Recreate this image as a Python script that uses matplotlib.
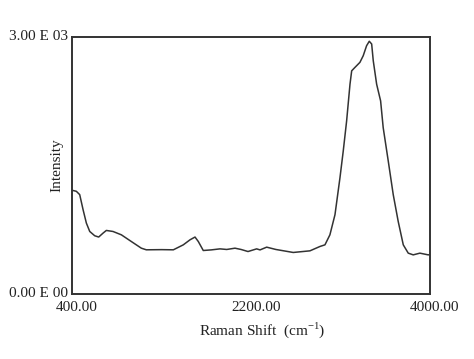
"""Raman spectrum, redrawn from a scanned figure."""

import matplotlib
matplotlib.use("Agg")
import matplotlib.pyplot as plt
import matplotlib.transforms as mtransforms

# points
shift = [400, 443, 477, 511, 544, 578, 628, 668, 712, 745, 812, 896, 996,
         1097, 1147, 1300, 1419, 1519, 1587, 1637, 1670, 1720, 1800, 1888,
         1956, 2039, 2100, 2170, 2257, 2291, 2358, 2450, 2550, 2625, 2793,
         2894, 2944, 2994, 3045, 3095, 3128, 3162, 3196, 3213, 3246, 3296,
         3329, 3363, 3390, 3414, 3430, 3464, 3504, 3530, 3581, 3631, 3681,
         3732, 3782, 3832, 3899, 3983, 4000]
intensity = [1211, 1199, 1160, 984, 828, 730, 680, 665, 711, 742, 730, 691, 613,
             535, 516, 518, 516, 574, 633, 665, 613, 508, 515, 527,
             520, 535, 520, 496, 527, 515, 547, 520, 500, 485, 504,
             555, 574, 691, 926, 1356, 1668, 2019, 2449, 2605, 2645, 2704,
             2781, 2898, 2950, 2918, 2723, 2449, 2254, 1942, 1551, 1160, 847,
             574, 477, 457, 477, 457, 460]
x_ticks = [400, 2200, 4000]
x_tick_labels = ["400.00", "2200.00", "4000.00"]
y_ticks = [0, 3000]
y_tick_labels = ["0.00 E 00", "3.00 E 03"]

INK = "#333333"
TEXT = "#222222"

plt.rcParams["font.family"] = "serif"
plt.rcParams["font.serif"] = ["Liberation Serif", "DejaVu Serif"]
plt.rcParams["mathtext.fontset"] = "custom"
plt.rcParams["mathtext.rm"] = "Liberation Serif"

fig = plt.figure(figsize=(4.74, 3.59), dpi=100)
ax = fig.add_axes([0.152, 0.181, 0.755, 0.716])
ax.plot(shift, intensity, color=INK, lw=1.1)

ax.set_xlim(400, 4000)
ax.set_ylim(0, 3000)
ax.set_xticks(x_ticks)
ax.set_xticklabels(x_tick_labels)
ax.set_yticks(y_ticks)
ax.set_yticklabels(y_tick_labels)
ax.tick_params(length=0, labelsize=11, colors=TEXT)
ax.tick_params(axis="x", pad=5)
ax.tick_params(axis="y", pad=3)
for s in ax.spines.values():
    s.set_linewidth(1.4)
    s.set_color(INK)

# scanned labels sit a little right of / above their ticks
shift_x = mtransforms.ScaledTranslation(5 / 100, 0, fig.dpi_scale_trans)
shift_y = mtransforms.ScaledTranslation(0, 2 / 100, fig.dpi_scale_trans)
for lab in ax.get_xticklabels():
    lab.set_transform(lab.get_transform() + shift_x)
for lab in ax.get_yticklabels():
    lab.set_transform(lab.get_transform() + shift_y)

ax.set_xlabel("Raman Shift  (cm$^{\\mathrm{-1}}$)", fontsize=11, color=TEXT)
ax.xaxis.set_label_coords(0.531, -0.103)
ax.set_ylabel("Intensity", fontsize=11, color=TEXT)
ax.yaxis.set_label_coords(-0.025, 0.5)

fig.savefig("out.png", dpi=100)
